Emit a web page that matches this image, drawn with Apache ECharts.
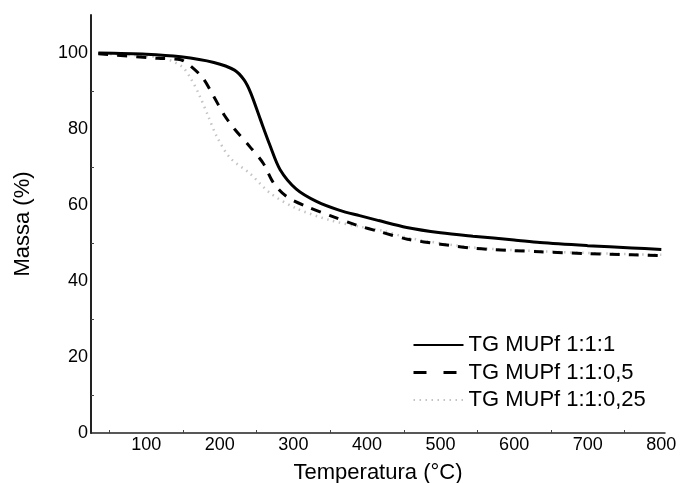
<!DOCTYPE html>
<html>
<head>
<meta charset="utf-8">
<script src="https://cdn.jsdelivr.net/npm/echarts@6/dist/echarts.min.js"></script>
<style>
html,body{margin:0;padding:0;background:#fff;}
#chart{width:681px;height:483px;}
</style>
</head>
<body>
<div id="chart"></div>
<script>
// Data
const seriesNames = ['TG MUPf 1:1:1', 'TG MUPf 1:1:0,5', 'TG MUPf 1:1:0,25'];

const tempA = [35, 100, 147, 192, 220, 233, 242, 255, 268, 282, 304, 332, 363, 390, 416, 454, 500, 544, 600, 635, 700, 760, 800];
const massA = [100, 99.7, 99.0, 97.5, 95.5, 92.9, 89.5, 82.6, 75.8, 69.3, 64.2, 60.9, 58.6, 57.2, 55.9, 54.1, 52.7, 51.8, 50.8, 50.1, 49.3, 48.7, 48.3];

const tempB = [35, 116, 147, 159, 177, 192, 206, 220, 241, 259, 273, 291, 318, 350, 386, 417, 455, 500, 545, 600, 635, 700, 760, 800];
const massB = [99.8, 98.6, 98.2, 96.8, 93.4, 88.5, 83.7, 80.0, 75.3, 71.0, 65.8, 62.2, 59.6, 57.2, 54.7, 53.0, 51.0, 49.7, 48.6, 48.0, 47.7, 47.2, 46.9, 46.7];

const tempC = [35, 120, 148, 160, 172, 184, 196, 214, 241, 268, 304, 350, 390, 420, 460, 545, 640, 730, 800];
const massC = [99.8, 98.8, 96.5, 93.5, 89.0, 83.5, 78.0, 72.4, 68.3, 63.2, 59.1, 56.0, 54.3, 53.3, 51.2, 48.8, 47.8, 47.2, 46.9];

const xTickLabels = [100, 200, 300, 400, 500, 600, 700, 800];
const xTickMarks = [50, 150, 250, 350, 450, 550, 650, 750];
const yTickLabels = [0, 20, 40, 60, 80, 100];
const yTickMarks = [10, 30, 50, 70, 90];

const pairs = (xs, ys) => xs.map((x, i) => [x, ys[i]]);

const font = 'Liberation Sans, Arial, sans-serif';
const chart = echarts.init(document.getElementById('chart'), null, {renderer: 'canvas'});

const solidStyle = {color: '#000', width: 3, type: 'solid'};
const dashStyle = {color: '#000', width: 3, type: [10, 9]};
const dotStyle = {color: '#c4c4c4', width: 2.5, type: [1.5, 4.5]};

chart.setOption({
  animation: false,
  backgroundColor: '#fff',
  grid: {left: 91, right: 16, top: 15, bottom: 50, containLabel: false, outerBoundsMode: 'none'},
  xAxis: {
    type: 'value',
    min: 25, max: 805,
    name: 'Temperatura (°C)',
    nameLocation: 'middle',
    nameGap: 29,
    nameTextStyle: {fontFamily: font, fontSize: 22, color: '#000'},
    axisLine: {show: true, onZero: false, lineStyle: {color: '#222', width: 1.5}},
    axisTick: {show: true, inside: true, length: 3, customValues: xTickMarks, lineStyle: {color: '#444', width: 1}},
    axisLabel: {customValues: xTickLabels, fontFamily: font, fontSize: 18, color: '#000', margin: 3},
    splitLine: {show: false}
  },
  yAxis: {
    type: 'value',
    min: 0, max: 110,
    name: 'Massa (%)',
    nameLocation: 'middle',
    nameRotate: 90,
    nameGap: 57,
    nameTextStyle: {fontFamily: font, fontSize: 22, color: '#000'},
    axisLine: {show: true, onZero: false, lineStyle: {color: '#222', width: 2}},
    axisTick: {show: true, inside: true, length: 3, customValues: yTickMarks, lineStyle: {color: '#444', width: 1}},
    axisLabel: {customValues: yTickLabels, fontFamily: font, fontSize: 18, color: '#000', margin: 3},
    splitLine: {show: false}
  },
  legend: {
    orient: 'vertical',
    left: 412,
    top: 334,
    padding: 0,
    itemWidth: 50,
    itemHeight: 14,
    itemGap: 5.5,
    itemStyle: {opacity: 0},
    textStyle: {fontFamily: font, fontSize: 22, color: '#000', lineHeight: 22},
    data: [
      {name: seriesNames[0]},
      {name: seriesNames[1], lineStyle: {color: '#000', width: 3, type: [13, 17]}},
      {name: seriesNames[2]}
    ]
  },
  series: [
    {name: seriesNames[2], type: 'line', data: pairs(tempC, massC), showSymbol: false, symbol: 'none', smooth: 0.3, lineStyle: dotStyle, itemStyle: {color: '#c4c4c4'}, z: 1},
    {name: seriesNames[1], type: 'line', data: pairs(tempB, massB), showSymbol: false, symbol: 'none', smooth: 0.3, lineStyle: dashStyle, itemStyle: {color: '#000'}, z: 2},
    {name: seriesNames[0], type: 'line', data: pairs(tempA, massA), showSymbol: false, symbol: 'none', smooth: 0.3, lineStyle: solidStyle, itemStyle: {color: '#000'}, z: 3}
  ]
});
</script>
</body>
</html>
